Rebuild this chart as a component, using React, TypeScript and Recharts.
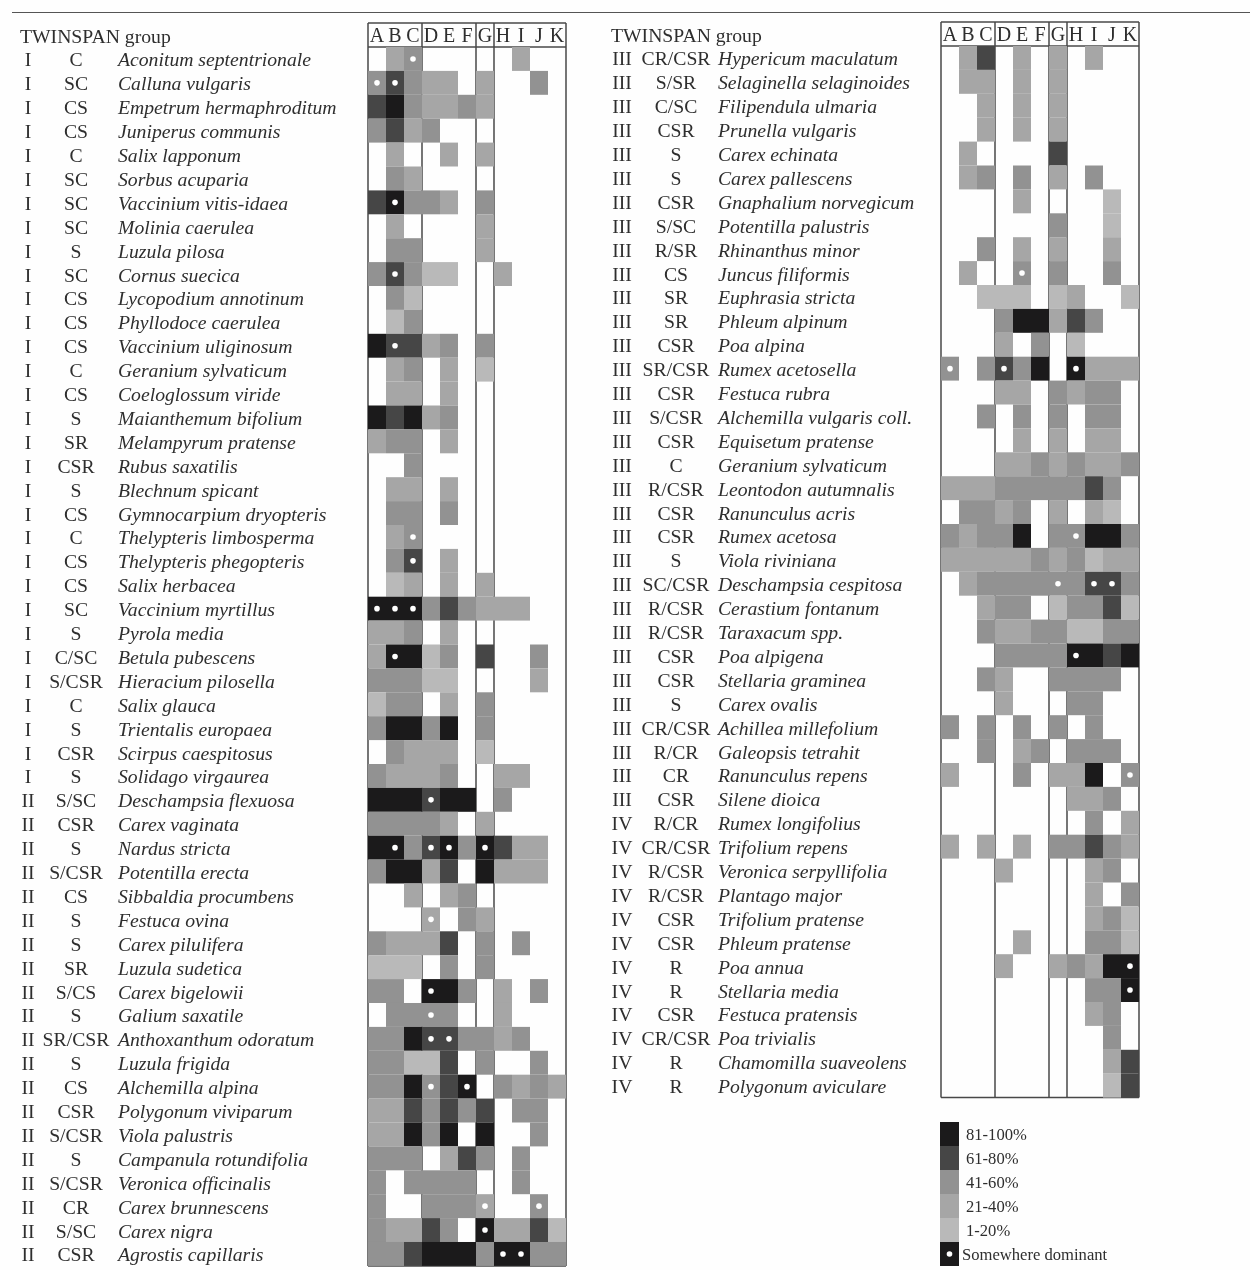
import React from 'react';
import { ScatterChart, Scatter, XAxis, YAxis, ReferenceLine } from 'recharts';

const columns = ['A', 'B', 'C', 'D', 'E', 'F', 'G', 'H', 'I', 'J', 'K'];

const leftSpecies = [
  'Aconitum septentrionale', 'Calluna vulgaris', 'Empetrum hermaphroditum', 'Juniperus communis', 'Salix lapponum',
  'Sorbus acuparia', 'Vaccinium vitis-idaea', 'Molinia caerulea', 'Luzula pilosa', 'Cornus suecica',
  'Lycopodium annotinum', 'Phyllodoce caerulea', 'Vaccinium uliginosum', 'Geranium sylvaticum', 'Coeloglossum viride',
  'Maianthemum bifolium', 'Melampyrum pratense', 'Rubus saxatilis', 'Blechnum spicant', 'Gymnocarpium dryopteris',
  'Thelypteris limbosperma', 'Thelypteris phegopteris', 'Salix herbacea', 'Vaccinium myrtillus', 'Pyrola media',
  'Betula pubescens', 'Hieracium pilosella', 'Salix glauca', 'Trientalis europaea', 'Scirpus caespitosus',
  'Solidago virgaurea', 'Deschampsia flexuosa', 'Carex vaginata', 'Nardus stricta', 'Potentilla erecta',
  'Sibbaldia procumbens', 'Festuca ovina', 'Carex pilulifera', 'Luzula sudetica', 'Carex bigelowii',
  'Galium saxatile', 'Anthoxanthum odoratum', 'Luzula frigida', 'Alchemilla alpina', 'Polygonum viviparum',
  'Viola palustris', 'Campanula rotundifolia', 'Veronica officinalis', 'Carex brunnescens', 'Carex nigra',
  'Agrostis capillaris',
];

const leftGroups = [
  'I', 'I', 'I', 'I', 'I', 'I', 'I', 'I', 'I', 'I', 'I', 'I', 'I', 'I', 'I', 'I', 'I', 'I', 'I', 'I', 'I', 'I', 'I', 'I', 'I', 'I',
  'I', 'I', 'I', 'I', 'I', 'II', 'II', 'II', 'II', 'II', 'II', 'II', 'II', 'II', 'II', 'II', 'II', 'II', 'II', 'II', 'II', 'II', 'II', 'II', 'II',
];

const leftStrategies = [
  'C', 'SC', 'CS', 'CS', 'C', 'SC', 'SC', 'SC', 'S', 'SC', 'CS', 'CS', 'CS', 'C', 'CS', 'S', 'SR', 'CSR', 'S', 'CS',
  'C', 'CS', 'CS', 'SC', 'S', 'C/SC', 'S/CSR', 'C', 'S', 'CSR', 'S', 'S/SC', 'CSR', 'S', 'S/CSR', 'CS', 'S', 'S', 'SR', 'S/CS',
  'S', 'SR/CSR', 'S', 'CS', 'CSR', 'S/CSR', 'S', 'S/CSR', 'CR', 'S/SC', 'CSR',
];

// cover class per species, columns A..K: 0 absent, 1 = 1-20%, ... 5 = 81-100%
const leftCover = [
  [0, 2, 3, 0, 0, 0, 0, 0, 2, 0, 0],
  [3, 4, 3, 2, 2, 0, 2, 0, 0, 3, 0],
  [4, 5, 3, 2, 2, 3, 2, 0, 0, 0, 0],
  [3, 4, 2, 3, 0, 0, 0, 0, 0, 0, 0],
  [0, 2, 0, 0, 2, 0, 2, 0, 0, 0, 0],
  [0, 3, 2, 0, 0, 0, 0, 0, 0, 0, 0],
  [4, 5, 3, 3, 2, 0, 3, 0, 0, 0, 0],
  [0, 2, 0, 0, 0, 0, 2, 0, 0, 0, 0],
  [0, 3, 3, 0, 0, 0, 2, 0, 0, 0, 0],
  [3, 4, 3, 1, 1, 0, 0, 2, 0, 0, 0],
  [0, 3, 1, 0, 0, 0, 0, 0, 0, 0, 0],
  [0, 1, 3, 0, 0, 0, 0, 0, 0, 0, 0],
  [5, 4, 4, 2, 3, 0, 3, 0, 0, 0, 0],
  [0, 2, 3, 0, 2, 0, 1, 0, 0, 0, 0],
  [0, 2, 2, 0, 2, 0, 0, 0, 0, 0, 0],
  [5, 4, 5, 2, 3, 0, 0, 0, 0, 0, 0],
  [2, 3, 3, 0, 2, 0, 0, 0, 0, 0, 0],
  [0, 0, 3, 0, 0, 0, 0, 0, 0, 0, 0],
  [0, 2, 2, 0, 2, 0, 0, 0, 0, 0, 0],
  [0, 3, 3, 0, 3, 0, 0, 0, 0, 0, 0],
  [0, 2, 3, 0, 0, 0, 0, 0, 0, 0, 0],
  [0, 3, 4, 0, 2, 0, 0, 0, 0, 0, 0],
  [0, 1, 2, 0, 2, 0, 2, 0, 0, 0, 0],
  [5, 5, 5, 3, 4, 3, 2, 2, 2, 0, 0],
  [2, 2, 3, 0, 2, 0, 0, 0, 0, 0, 0],
  [2, 5, 5, 1, 3, 0, 4, 0, 0, 3, 0],
  [3, 3, 3, 1, 1, 0, 0, 0, 0, 2, 0],
  [1, 3, 3, 0, 2, 0, 3, 0, 0, 0, 0],
  [3, 5, 5, 3, 5, 0, 3, 0, 0, 0, 0],
  [0, 3, 2, 2, 2, 0, 1, 0, 0, 0, 0],
  [3, 2, 2, 2, 3, 0, 0, 2, 2, 0, 0],
  [5, 5, 5, 4, 5, 5, 0, 3, 0, 0, 0],
  [3, 3, 3, 3, 2, 0, 2, 0, 0, 0, 0],
  [5, 5, 3, 4, 5, 3, 5, 4, 2, 2, 0],
  [3, 5, 5, 2, 4, 0, 5, 2, 2, 2, 0],
  [0, 0, 2, 0, 2, 3, 0, 0, 0, 0, 0],
  [0, 0, 0, 2, 0, 3, 2, 0, 0, 0, 0],
  [3, 2, 2, 2, 4, 0, 3, 0, 3, 0, 0],
  [1, 1, 1, 0, 3, 0, 3, 0, 0, 0, 0],
  [3, 3, 0, 5, 5, 3, 0, 2, 0, 3, 0],
  [0, 3, 3, 3, 3, 0, 0, 2, 0, 0, 0],
  [3, 3, 5, 4, 4, 3, 3, 2, 3, 0, 0],
  [3, 3, 1, 1, 4, 0, 3, 0, 0, 3, 0],
  [3, 3, 5, 3, 4, 5, 0, 3, 2, 3, 2],
  [2, 2, 4, 3, 4, 3, 4, 0, 3, 3, 0],
  [2, 2, 5, 3, 5, 0, 5, 0, 0, 3, 0],
  [3, 3, 3, 0, 2, 4, 3, 0, 3, 0, 0],
  [3, 0, 3, 3, 3, 3, 0, 0, 3, 0, 0],
  [3, 0, 0, 3, 3, 3, 2, 0, 0, 3, 0],
  [3, 2, 2, 4, 3, 0, 5, 2, 2, 4, 1],
  [3, 3, 4, 5, 5, 5, 3, 5, 5, 3, 3],
];

// [species row, column] of the white dots
const leftDominant = [
  [0, 2], [1, 0], [1, 1], [6, 1], [9, 1], [12, 1], [20, 2], [21, 2], [23, 0], [23, 1], [23, 2], [25, 1],
  [31, 3], [33, 1], [33, 3], [33, 4], [33, 6], [36, 3], [39, 3], [40, 3], [41, 3], [41, 4], [43, 3], [43, 5],
  [48, 6], [48, 9], [49, 6], [50, 7], [50, 8],
];

const rightSpecies = [
  'Hypericum maculatum', 'Selaginella selaginoides', 'Filipendula ulmaria', 'Prunella vulgaris', 'Carex echinata',
  'Carex pallescens', 'Gnaphalium norvegicum', 'Potentilla palustris', 'Rhinanthus minor', 'Juncus filiformis',
  'Euphrasia stricta', 'Phleum alpinum', 'Poa alpina', 'Rumex acetosella', 'Festuca rubra',
  'Alchemilla vulgaris coll.', 'Equisetum pratense', 'Geranium sylvaticum', 'Leontodon autumnalis', 'Ranunculus acris',
  'Rumex acetosa', 'Viola riviniana', 'Deschampsia cespitosa', 'Cerastium fontanum', 'Taraxacum spp.',
  'Poa alpigena', 'Stellaria graminea', 'Carex ovalis', 'Achillea millefolium', 'Galeopsis tetrahit',
  'Ranunculus repens', 'Silene dioica', 'Rumex longifolius', 'Trifolium repens', 'Veronica serpyllifolia',
  'Plantago major', 'Trifolium pratense', 'Phleum pratense', 'Poa annua', 'Stellaria media',
  'Festuca pratensis', 'Poa trivialis', 'Chamomilla suaveolens', 'Polygonum aviculare',
];

const rightGroups = [
  'III', 'III', 'III', 'III', 'III', 'III', 'III', 'III', 'III', 'III', 'III', 'III', 'III', 'III', 'III', 'III',
  'III', 'III', 'III', 'III', 'III', 'III', 'III', 'III', 'III', 'III', 'III', 'III', 'III', 'III', 'III', 'III',
  'IV', 'IV', 'IV', 'IV', 'IV', 'IV', 'IV', 'IV', 'IV', 'IV', 'IV', 'IV',
];

const rightStrategies = [
  'CR/CSR', 'S/SR', 'C/SC', 'CSR', 'S', 'S', 'CSR', 'S/SC', 'R/SR', 'CS', 'SR', 'SR', 'CSR', 'SR/CSR', 'CSR',
  'S/CSR', 'CSR', 'C', 'R/CSR', 'CSR', 'CSR', 'S', 'SC/CSR', 'R/CSR', 'R/CSR', 'CSR', 'CSR', 'S', 'CR/CSR', 'R/CR',
  'CR', 'CSR', 'R/CR', 'CR/CSR', 'R/CSR', 'R/CSR', 'CSR', 'CSR', 'R', 'R', 'CSR', 'CR/CSR', 'R', 'R',
];

const rightCover = [
  [0, 2, 4, 0, 2, 0, 2, 0, 2, 0, 0],
  [0, 2, 2, 0, 2, 0, 2, 0, 0, 0, 0],
  [0, 0, 2, 0, 2, 0, 2, 0, 0, 0, 0],
  [0, 0, 2, 0, 2, 0, 2, 0, 0, 0, 0],
  [0, 2, 0, 0, 0, 0, 4, 0, 0, 0, 0],
  [0, 2, 3, 0, 3, 0, 2, 0, 3, 0, 0],
  [0, 0, 0, 0, 2, 0, 0, 0, 0, 1, 0],
  [0, 0, 0, 0, 0, 0, 3, 0, 0, 1, 0],
  [0, 0, 3, 0, 2, 0, 2, 0, 0, 2, 0],
  [0, 2, 0, 0, 3, 0, 3, 0, 0, 3, 0],
  [0, 0, 1, 1, 1, 0, 1, 2, 0, 0, 1],
  [0, 0, 0, 3, 5, 5, 2, 4, 3, 0, 0],
  [0, 0, 0, 2, 0, 3, 0, 1, 0, 0, 0],
  [3, 0, 3, 4, 3, 5, 0, 5, 2, 2, 2],
  [0, 0, 0, 2, 2, 0, 3, 2, 3, 3, 0],
  [0, 0, 3, 0, 3, 0, 3, 0, 3, 3, 0],
  [0, 0, 0, 0, 2, 0, 2, 0, 2, 2, 0],
  [0, 0, 0, 2, 2, 3, 2, 3, 2, 2, 3],
  [2, 2, 2, 3, 3, 3, 3, 3, 4, 3, 0],
  [0, 3, 3, 2, 3, 0, 2, 0, 2, 1, 0],
  [3, 2, 3, 3, 5, 0, 3, 3, 5, 5, 3],
  [2, 2, 2, 2, 2, 3, 2, 3, 1, 2, 2],
  [0, 2, 3, 3, 3, 3, 3, 3, 4, 4, 3],
  [0, 0, 2, 3, 3, 0, 1, 3, 3, 4, 1],
  [0, 0, 3, 2, 2, 3, 3, 1, 1, 3, 3],
  [0, 0, 0, 3, 3, 3, 3, 5, 5, 4, 5],
  [0, 0, 3, 2, 0, 0, 3, 3, 3, 3, 0],
  [0, 0, 0, 2, 0, 0, 0, 3, 3, 0, 0],
  [3, 0, 3, 0, 3, 0, 3, 0, 3, 0, 0],
  [0, 0, 3, 0, 2, 3, 0, 3, 3, 3, 0],
  [2, 0, 0, 0, 3, 0, 2, 2, 5, 0, 3],
  [0, 0, 0, 0, 0, 0, 0, 2, 2, 3, 0],
  [0, 0, 0, 0, 0, 0, 0, 0, 3, 0, 2],
  [2, 0, 2, 0, 2, 0, 3, 3, 4, 3, 2],
  [0, 0, 0, 2, 0, 0, 0, 0, 2, 3, 0],
  [0, 0, 0, 0, 0, 0, 0, 0, 2, 0, 3],
  [0, 0, 0, 0, 0, 0, 0, 0, 2, 3, 1],
  [0, 0, 0, 0, 2, 0, 0, 0, 3, 3, 1],
  [0, 0, 0, 2, 0, 0, 2, 3, 2, 5, 5],
  [0, 0, 0, 0, 0, 0, 0, 0, 3, 3, 5],
  [0, 0, 0, 0, 0, 0, 0, 0, 2, 3, 0],
  [0, 0, 0, 0, 0, 0, 0, 0, 0, 3, 0],
  [0, 0, 0, 0, 0, 0, 0, 0, 0, 2, 4],
  [0, 0, 0, 0, 0, 0, 0, 0, 0, 1, 4],
];

const rightDominant = [
  [9, 4], [13, 0], [13, 3], [13, 7], [20, 7], [22, 6], [22, 8], [22, 9], [25, 7], [30, 10], [38, 10], [39, 10],
];

const legendLabels = ['81-100%', '61-80%', '41-60%', '21-40%', '1-20%', 'Somewhere dominant'];
const legendLevels = [5, 4, 3, 2, 1, 5];

const levelColors = ['none', '#b9b9b9', '#a6a6a6', '#929292', '#464646', '#1b1a1b'];

const SERIF = '"Liberation Serif", serif';
const INK = '#2e2e2e';
const COL_W = 18;
const ROW_H = 23.9;

const cellShape = (w: number, h: number) => (p: any) => (
  <rect x={p.cx - w / 2} y={p.cy - h / 2} width={w} height={h} fill={levelColors[p.payload.level]} />
);

const dotShape = (p: any) => <circle cx={p.cx} cy={p.cy} r={2.8} fill="#fff" />;

function Panel({ species, groups, strategies, cover, dominant, left, plotLeft, plotTop, titleX, groupX, strategyX, speciesX }: any) {
  const n = species.length;
  const cells = cover.flatMap((vals: number[], r: number) =>
    vals.map((level, c) => ({ col: c + 0.5, row: r + 0.5, level })).filter((d) => d.level > 0),
  );
  const dots = dominant.map(([r, c]: number[]) => ({ col: c + 0.5, row: r + 0.5 }));
  const height = plotTop + ROW_H * (n + 1) + 3;

  const rowTick = (p: any) => {
    const v = p.payload.value;
    if (v < 0) {
      return (
        <text x={titleX} y={p.y} dy={7.5} fontFamily={SERIF} fontSize={19.7} fill={INK}>
          TWINSPAN group
        </text>
      );
    }
    const i = Math.floor(v);
    return (
      <g fontFamily={SERIF} fontSize={19.7} fill={INK}>
        <text x={groupX} y={p.y} dy={7.5} textAnchor="middle">{groups[i]}</text>
        <text x={strategyX} y={p.y} dy={7.5} textAnchor="middle">{strategies[i]}</text>
        <text x={speciesX} y={p.y} dy={7.5} fontStyle="italic">{species[i]}</text>
      </g>
    );
  };

  const colTick = (p: any) => (
    <text x={p.x} y={plotTop + ROW_H / 2 + 7} textAnchor="middle" fontFamily={SERIF} fontSize={20} fill={INK}>
      {columns[Math.floor(p.payload.value)]}
    </text>
  );

  return (
    <div style={{ position: 'absolute', left, top: 0 }}>
      <ScatterChart
        width={plotLeft + COL_W * 11 + 8}
        height={height}
        margin={{ top: plotTop - 1, right: 8, bottom: 3, left: 0 }}
      >
        <XAxis
          type="number"
          dataKey="col"
          orientation="top"
          domain={[0, 11]}
          ticks={columns.map((_, i) => i + 0.5)}
          interval={0}
          height={1}
          axisLine={false}
          tickLine={false}
          tick={colTick}
        />
        <YAxis
          type="number"
          dataKey="row"
          reversed
          domain={[-1, n]}
          ticks={[-0.5, ...species.map((_: string, i: number) => i + 0.5)]}
          interval={0}
          width={plotLeft}
          axisLine={false}
          tickLine={false}
          tick={rowTick}
        />
        <Scatter data={cells} isAnimationActive={false} shape={cellShape(COL_W, ROW_H)} />
        <Scatter data={dots} isAnimationActive={false} shape={dotShape} />
        {[0, 3, 6, 7, 11].map((x) => (
          <ReferenceLine key={x} x={x} stroke="#484848" strokeWidth={1.5} />
        ))}
        {[-1, 0, n].map((y) => (
          <ReferenceLine key={y} y={y} stroke="#484848" strokeWidth={1.5} />
        ))}
      </ScatterChart>
    </div>
  );
}

function LegendChart() {
  const cells = legendLevels.map((level, i) => ({ col: 0.5, row: i + 0.5, level }));
  const labelTick = (p: any) => {
    const i = Math.floor(p.payload.value);
    return (
      <text x={i === 5 ? 22 : 26} y={p.y} dy={5.5} fontFamily={SERIF} fontSize={16.6} fill={INK}>
        {legendLabels[i]}
      </text>
    );
  };
  return (
    <div style={{ position: 'absolute', left: 940, top: 1122 }}>
      <ScatterChart width={200} height={144} margin={{ top: 0, right: 0, bottom: 0, left: 0 }}>
        <XAxis type="number" dataKey="col" domain={[0, 1]} hide />
        <YAxis
          type="number"
          dataKey="row"
          orientation="right"
          reversed
          domain={[0, 6]}
          ticks={legendLabels.map((_, i) => i + 0.5)}
          interval={0}
          width={181}
          axisLine={false}
          tickLine={false}
          tick={labelTick}
        />
        <Scatter data={cells} isAnimationActive={false} shape={cellShape(19, 24)} />
        <Scatter data={[{ col: 0.5, row: 5.5 }]} isAnimationActive={false} shape={dotShape} />
      </ScatterChart>
    </div>
  );
}

export default function App() {
  return (
    <div style={{ position: 'absolute', left: 0, top: 0, width: 1250, height: 1270, background: '#fefefe', overflow: 'hidden', filter: 'blur(0.4px)' }}>
      <div style={{ position: 'absolute', left: 12, top: 11.5, width: 1238, height: 1, background: '#555' }} />
      <Panel
        species={leftSpecies}
        groups={leftGroups}
        strategies={leftStrategies}
        cover={leftCover}
        dominant={leftDominant}
        left={0}
        plotLeft={368}
        plotTop={23.1}
        titleX={20}
        groupX={28}
        strategyX={76}
        speciesX={118}
      />
      <Panel
        species={rightSpecies}
        groups={rightGroups}
        strategies={rightStrategies}
        cover={rightCover}
        dominant={rightDominant}
        left={591}
        plotLeft={350}
        plotTop={22.1}
        titleX={20}
        groupX={31}
        strategyX={85}
        speciesX={127}
      />
      <LegendChart />
    </div>
  );
}
